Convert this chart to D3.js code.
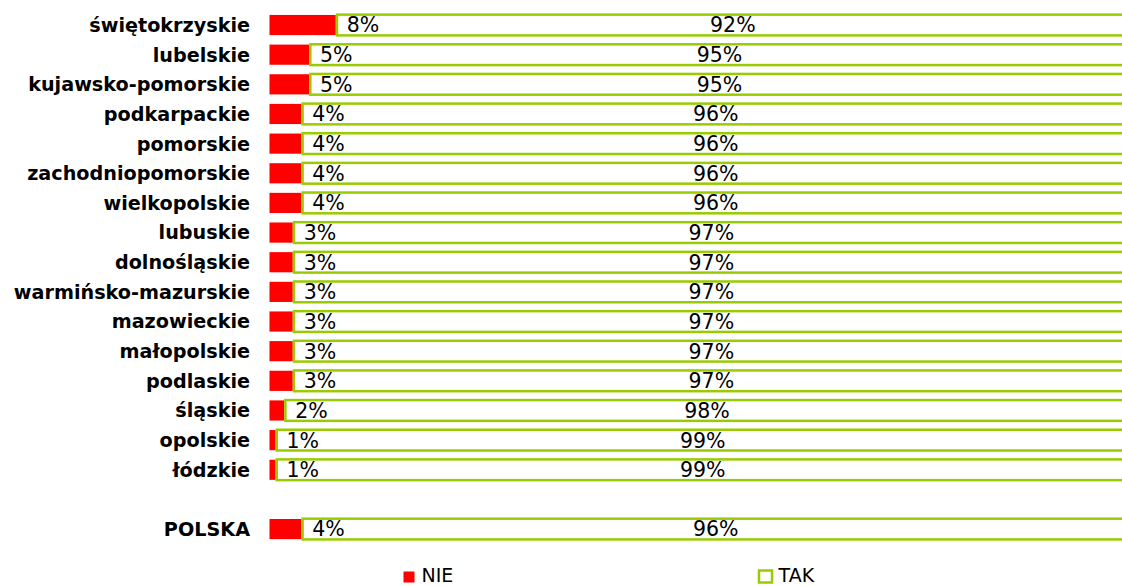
<!DOCTYPE html>
<html>
<head>
<meta charset="utf-8">
<script src="https://cdn.jsdelivr.net/npm/d3@7/dist/d3.min.js"></script>
<style>
  html, body { margin: 0; padding: 0; background: #fff; }
  svg { display: block; font-family: "DejaVu Sans", Verdana, sans-serif; }
</style>
</head>
<body>
<svg id="chart" width="1122" height="586"></svg>
<script>
const regions = ["świętokrzyskie","lubelskie","kujawsko-pomorskie","podkarpackie","pomorskie","zachodniopomorskie","wielkopolskie","lubuskie","dolnośląskie","warmińsko-mazurskie","mazowieckie","małopolskie","podlaskie","śląskie","opolskie","łódzkie","POLSKA"];
const nieValues = [7.7,4.6,4.6,3.7,3.7,3.7,3.7,2.7,2.7,2.7,2.7,2.7,2.7,1.7,0.7,0.7,3.7];
const takValues = [92.3,95.4,95.4,96.3,96.3,96.3,96.3,97.3,97.3,97.3,97.3,97.3,97.3,98.3,99.3,99.3,96.3];
const nieLabels = ["8%","5%","5%","4%","4%","4%","4%","3%","3%","3%","3%","3%","3%","2%","1%","1%","4%"];
const takLabels = ["92%","95%","95%","96%","96%","96%","96%","97%","97%","97%","97%","97%","97%","98%","99%","99%","96%"];
const seriesNames = ["NIE","TAK"];

const RED = "#ff0000", GREEN = "#99cc00";
const svg = d3.select("#chart");

const data = regions.map((r, i) => ({
  name: r, nie: nieValues[i], tak: takValues[i], nieL: nieLabels[i], takL: takLabels[i]
}));

const domain = regions.slice(0, 16).concat(["__gap__", "POLSKA"]);
const y = d3.scaleBand().domain(domain).range([10.2, 543.9]).paddingInner(0.32).paddingOuter(0.16);
const x = d3.scaleLinear().domain([0, 100]).range([269.5, 1130]);

const rows = svg.append("g").selectAll("g").data(data).join("g")
  .attr("transform", d => `translate(0,${y(d.name)})`);

const bw = y.bandwidth();

// NIE bars
rows.append("rect")
  .attr("x", x(0)).attr("y", 0)
  .attr("width", d => x(d.nie) - x(0)).attr("height", bw)
  .attr("fill", RED);

// TAK bars (outlined)
rows.append("rect")
  .attr("x", d => x(d.nie) + 1.25).attr("y", -0.3)
  .attr("width", d => x(d.nie + d.tak) - x(d.nie)).attr("height", bw + 0.6)
  .attr("fill", "#fff").attr("stroke", GREEN).attr("stroke-width", 2.5);

// Category labels
rows.append("text")
  .attr("x", 250).attr("y", bw / 2).attr("dy", "0.36em")
  .attr("text-anchor", "end").attr("font-weight", "bold").attr("font-size", 19.2)
  .attr("fill", "#000").text(d => d.name);

// NIE labels
rows.append("text")
  .attr("x", d => x(d.nie) + 11).attr("y", bw / 2).attr("dy", "0.36em")
  .attr("font-size", 20.5).attr("fill", "#000").text(d => d.nieL);

// TAK labels (centered in bar)
rows.append("text")
  .attr("x", d => (x(d.nie) + x(d.nie + d.tak)) / 2).attr("y", bw / 2).attr("dy", "0.36em")
  .attr("text-anchor", "middle").attr("font-size", 20.5).attr("fill", "#000").text(d => d.takL);

// Legend
const lg = svg.append("g");
lg.append("rect").attr("x", 403.5).attr("y", 571.5).attr("width", 11).attr("height", 11).attr("fill", RED);
lg.append("text").attr("x", 421.5).attr("y", 575.5).attr("dy", "0.36em").attr("font-size", 19).attr("fill", "#000").text(seriesNames[0]);
lg.append("rect").attr("x", 759).attr("y", 570.5).attr("width", 13).attr("height", 12).attr("fill", "#fff").attr("stroke", GREEN).attr("stroke-width", 2.5);
lg.append("text").attr("x", 778.5).attr("y", 575.5).attr("dy", "0.36em").attr("font-size", 19).attr("fill", "#000").text(seriesNames[1]);
</script>
</body>
</html>
